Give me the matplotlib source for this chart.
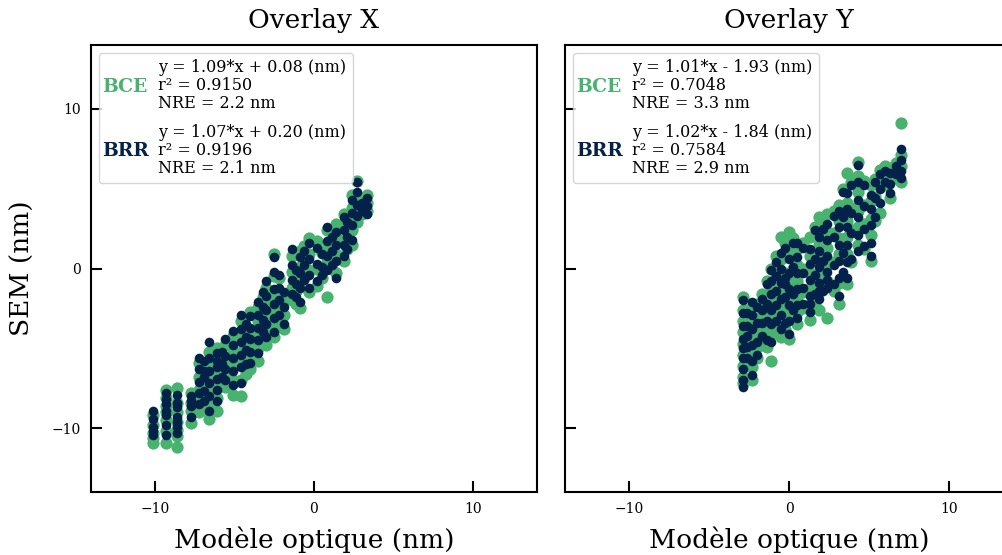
import numpy as np
import matplotlib
matplotlib.use("Agg")
import matplotlib.pyplot as plt
from matplotlib.text import Text
from matplotlib.legend_handler import HandlerBase

plt.rcParams['font.family'] = 'DejaVu Serif'

green = '#48b36e'
navy = '#04214a'

# Overlay X : une colonne par valeur du modèle optique
ox_model = [-10.1, -9.3, -8.6, -7.7, -7.2, -6.9, -6.6, -6.1, -5.8, -5.6, -5.1, -4.6, -4.3,
            -4.0, -3.5, -3.2, -3.0, -2.5, -2.2, -1.9, -1.4, -1.1, -0.9, -0.6, -0.3, 0.2,
            0.5, 0.8, 1.1, 1.4, 1.9, 2.1, 2.4, 2.7, 3.0, 3.3]
ox_bce = [
    [-9.2, -9.8, -10.3, -10.6, -10.9],
    [-7.6, -8.1, -8.6, -9.0, -9.5, -10.2, -10.9],
    [-7.5, -8.4, -9.0, -9.6, -10.1, -10.5, -11.2],
    [-7.8, -8.4, -8.9, -9.7],
    [-5.9, -6.8, -7.6, -8.3, -9.0],
    [-6.0, -6.7, -7.3, -8.2, -8.8],
    [-5.2, -6.0, -7.0, -7.8, -8.6, -9.4],
    [-5.0, -5.8, -6.5, -7.4, -8.1, -8.9],
    [-5.5, -6.4, -7.2],
    [-4.8, -5.9, -6.8, -7.4],
    [-4.2, -5.2, -6.1, -7.0, -7.9],
    [-3.3, -4.3, -5.2, -6.0, -7.0, -8.0],
    [-3.8, -4.7, -5.6, -6.6],
    [-2.7, -4.0, -4.9, -5.7, -6.3],
    [-2.4, -3.3, -4.1, -5.0, -5.8],
    [-1.8, -2.8, -3.7, -4.5],
    [-1.2, -2.2, -3.0, -3.9, -4.8],
    [0.9, -0.5, -1.7, -2.6, -3.5, -4.3],
    [-0.6, -1.5, -2.4, -3.3],
    [-1.9, -2.9, -3.8],
    [0.8, -0.2, -1.2, -2.0],
    [-0.4, -1.4, -2.2],
    [1.1, 0.1, -0.8, -2.5],
    [1.4, 0.4, -0.6],
    [1.9, 0.9, -0.1, -1.5],
    [1.7, 0.0, -1.1],
    [1.0, -0.2, -0.6],
    [2.4, 1.3, 0.4, -1.8],
    [2.2, 1.0, 0.0],
    [2.8, 1.9, 0.9, -0.3],
    [3.4, 2.7, 1.8, 0.5],
    [3.0, 2.1, 1.2],
    [4.6, 3.8, 2.4, 1.5],
    [5.5, 4.5, 3.6, 2.9],
    [4.2, 3.4],
    [4.6, 4.1, 3.6],
]
ox_brr = [
    [-8.9, -9.4, -9.9, -10.2, -10.4],
    [-7.8, -8.2, -8.5, -8.9, -9.2, -9.8, -10.4],
    [-7.9, -8.4, -8.7, -9.3, -9.6, -9.9, -10.3],
    [-8.0, -8.3, -8.6, -9.3],
    [-5.6, -6.3, -7.1, -7.8, -8.5],
    [-5.8, -6.4, -6.8, -7.7, -8.3],
    [-4.6, -5.6, -6.4, -7.2, -8.0, -8.9],
    [-5.3, -5.8, -6.2, -6.9, -7.6, -8.3],
    [-5.2, -6.0, -6.8],
    [-4.4, -5.5, -6.3, -7.0],
    [-3.9, -4.8, -5.6, -6.4, -7.3],
    [-2.9, -3.8, -4.6, -5.4, -6.2, -7.2],
    [-3.5, -4.3, -5.1, -6.0],
    [-3.0, -3.7, -4.4, -5.2, -5.9],
    [-2.1, -2.9, -3.7, -4.5, -5.3],
    [-1.5, -2.4, -3.2, -4.0],
    [-0.8, -1.7, -2.6, -3.5, -4.3],
    [0.7, -0.2, -1.3, -2.2, -3.1, -4.0],
    [-0.4, -1.2, -2.0, -2.9],
    [-1.5, -2.4, -3.5],
    [1.2, 0.2, -0.7, -1.6],
    [-0.1, -1.0, -1.8],
    [0.7, -0.3, -1.2, -2.1],
    [1.1, 0.2, -0.7],
    [1.6, 0.6, -0.4, -1.2],
    [1.3, 0.3, -0.8],
    [0.9, 0.1, -0.4],
    [2.6, 1.7, 0.8, -0.1],
    [2.0, 1.1, 0.2],
    [2.3, 1.5, 0.5, -0.6],
    [3.2, 2.4, 1.5, 0.8],
    [2.9, 2.0, 1.2],
    [4.3, 3.5, 2.7, 1.8],
    [5.4, 4.8, 4.0, 3.3],
    [4.1, 3.6],
    [4.4, 3.9, 3.4],
]

# Overlay Y
oy_model = [-2.9, -2.6, -2.3, -2.0, -1.7, -1.4, -1.1, -0.8, -0.5, -0.25, 0.0, 0.25, 0.5,
            0.9, 1.3, 1.6, 1.9, 2.1, 2.4, 2.8, 3.1, 3.4, 3.6, 3.9, 4.3, 4.7, 5.1, 5.4,
            5.7, 6.0, 6.3, 6.7, 7.0]
oy_bce = [
    [-1.8, -2.6, -3.3, -4.0, -4.7, -5.4, -6.1, -6.8, -7.2],
    [-2.6, -3.5, -4.4, -5.1, -5.8],
    [-2.4, -3.3, -4.3, -5.3, -6.2, -7.0],
    [-2.2, -3.6, -4.9, -5.6],
    [-1.6, -2.9, -3.9, -4.8],
    [-0.8, -2.4, -3.6, -4.9],
    [0.0, -1.2, -2.1, -3.0, -4.1, -5.8],
    [0.8, -0.6, -1.6, -2.6, -3.6],
    [2.0, 0.6, -0.5, -1.5, -2.4, -4.3],
    [1.6, -0.3, -1.2, -2.1, -3.8],
    [2.3, 1.0, -0.8, -1.8, -2.8, -4.4],
    [1.9, 0.0, -1.5, -3.0],
    [1.2, 0.2, -0.8, -1.8, -2.7, -3.5],
    [1.6, 0.0, -1.5, -2.5],
    [2.0, 0.8, -0.3, -1.2, -2.2, -3.2],
    [2.6, 0.9, -0.6, -2.2],
    [3.2, 1.5, 0.5, -0.5, -1.5, -2.6],
    [3.0, 1.0, -1.2],
    [3.4, 2.3, 1.3, 0.2, -0.8, -3.1],
    [3.6, 2.2, 0.4, -1.4],
    [4.0, 3.0, 1.9, 0.9, -0.9, -2.2],
    [5.0, 3.4, 1.2, -0.6],
    [6.0, 4.1, 3.0, 2.0, 0.9, -1.0],
    [5.4, 3.8, 2.4, 0.4],
    [6.7, 5.8, 4.8, 3.6, 2.6, 1.5],
    [5.5, 4.0, 2.8, 1.2],
    [5.2, 4.2, 3.1, 2.1, 0.5],
    [5.6, 4.5, 3.0],
    [6.2, 5.4, 3.5],
    [6.4, 5.2],
    [6.3, 5.6, 4.4],
    [6.6, 5.7],
    [9.1, 7.1, 6.4, 5.4],
]
oy_brr = [
    [-2.0, -2.8, -3.6, -4.4, -5.0, -5.6, -6.3, -7.0, -7.4],
    [-2.8, -3.6, -4.2, -4.9, -5.6],
    [-2.1, -2.9, -3.8, -4.8, -5.8, -6.7],
    [-2.4, -3.4, -4.6, -5.4],
    [-1.9, -2.6, -3.4, -4.2],
    [-1.0, -2.2, -3.3, -4.5],
    [-0.1, -0.8, -1.6, -2.6, -3.5, -4.6],
    [0.4, -0.5, -1.4, -2.3, -3.3],
    [1.0, 0.0, -0.9, -1.9, -2.9, -3.8],
    [1.3, -0.6, -1.0, -1.8, -3.4],
    [0.6, -0.3, -1.3, -2.3, -3.3, -4.1],
    [1.6, 0.1, -1.6, -2.6],
    [1.6, 0.7, -0.3, -1.3, -2.3, -3.1],
    [1.3, -0.3, -1.2, -2.2],
    [1.2, 0.3, -0.7, -1.7, -2.2, -2.7],
    [2.4, 0.6, -0.4, -1.6],
    [2.0, 1.1, 0.1, -0.9, -1.4, -1.9],
    [2.5, 0.5, -1.4],
    [2.8, 1.8, 0.8, -0.2, -0.7, -1.2],
    [3.3, 2.0, 0.2, -1.0],
    [3.6, 2.6, 1.5, 0.5, -0.6, -1.7],
    [4.8, 3.2, 1.0, -0.2],
    [4.7, 3.7, 2.6, 1.5, 0.4, -0.6],
    [5.2, 3.5, 2.2, 0.6],
    [6.5, 5.4, 4.3, 3.2, 2.1, 1.1],
    [5.2, 3.9, 2.5, 1.4],
    [4.6, 3.7, 2.7, 1.6, 0.8],
    [5.4, 4.4, 3.2],
    [5.9, 5.0, 4.1],
    [6.1, 5.4],
    [6.0, 5.3, 4.7],
    [6.4, 5.9],
    [7.5, 6.8, 6.1, 5.7],
]

stats = {
    'X': ['y = 1.09*x + 0.08 (nm)\nr\u00b2 = 0.9150\nNRE = 2.2 nm',
          'y = 1.07*x + 0.20 (nm)\nr\u00b2 = 0.9196\nNRE = 2.1 nm'],
    'Y': ['y = 1.01*x - 1.93 (nm)\nr\u00b2 = 0.7048\nNRE = 3.3 nm',
          'y = 1.02*x - 1.84 (nm)\nr\u00b2 = 0.7584\nNRE = 2.9 nm'],
}


class TextHandler(HandlerBase):
    def create_artists(self, legend, orig_handle, xdescent, ydescent,
                       width, height, fontsize, trans):
        t = Text(-xdescent - 2, -ydescent + height / 2, orig_handle.get_text(),
                 color=orig_handle.get_color(), fontweight='bold', fontsize=13.5,
                 va='center', ha='left', transform=trans)
        return [t]


def flat(model, cols):
    xs = np.repeat(model, [len(c) for c in cols])
    ys = np.concatenate([np.array(c) for c in cols])
    return xs, ys


fig = plt.figure(figsize=(10.03, 5.55), dpi=100)
ax1 = fig.add_axes([91 / 1003, 63 / 555, 446 / 1003, 447 / 555])
ax2 = fig.add_axes([565 / 1003, 63 / 555, 448 / 1003, 447 / 555], sharey=ax1)

for ax, name, model, bce, brr in [(ax1, 'X', ox_model, ox_bce, ox_brr),
                                  (ax2, 'Y', oy_model, oy_bce, oy_brr)]:
    x, y = flat(model, bce)
    ax.scatter(x, y, s=78, color=green, linewidths=0, zorder=2)
    x, y = flat(model, brr)
    ax.scatter(x, y, s=48, color=navy, linewidths=0, zorder=3)
    ax.set_xlim(-14, 14)
    ax.set_ylim(-14, 14)
    ax.set_xticks([-10, 0, 10])
    ax.set_yticks([-10, 0, 10])
    ax.tick_params(direction='in', length=8, width=1.5, labelsize=10, pad=7)
    for sp in ax.spines.values():
        sp.set_linewidth(1.5)
    ax.set_title('Overlay ' + name, fontsize=19, pad=12)
    ax.set_xlabel('Modèle optique (nm)', fontsize=19, labelpad=8)
    handles = [Text(0, 0, 'BCE', color=green), Text(0, 0, 'BRR', color=navy)]
    leg = ax.legend(handles, stats[name], loc='upper left', fontsize=11.5,
                    handler_map={Text: TextHandler()}, handlelength=2.6,
                    handletextpad=0.72, labelspacing=0.7)
    for t in leg.get_texts():
        t.set_linespacing(1.08)

ax1.set_ylabel('SEM (nm)', fontsize=19, labelpad=12)
ax2.tick_params(labelleft=False)

fig.savefig('out.png', dpi=100)
